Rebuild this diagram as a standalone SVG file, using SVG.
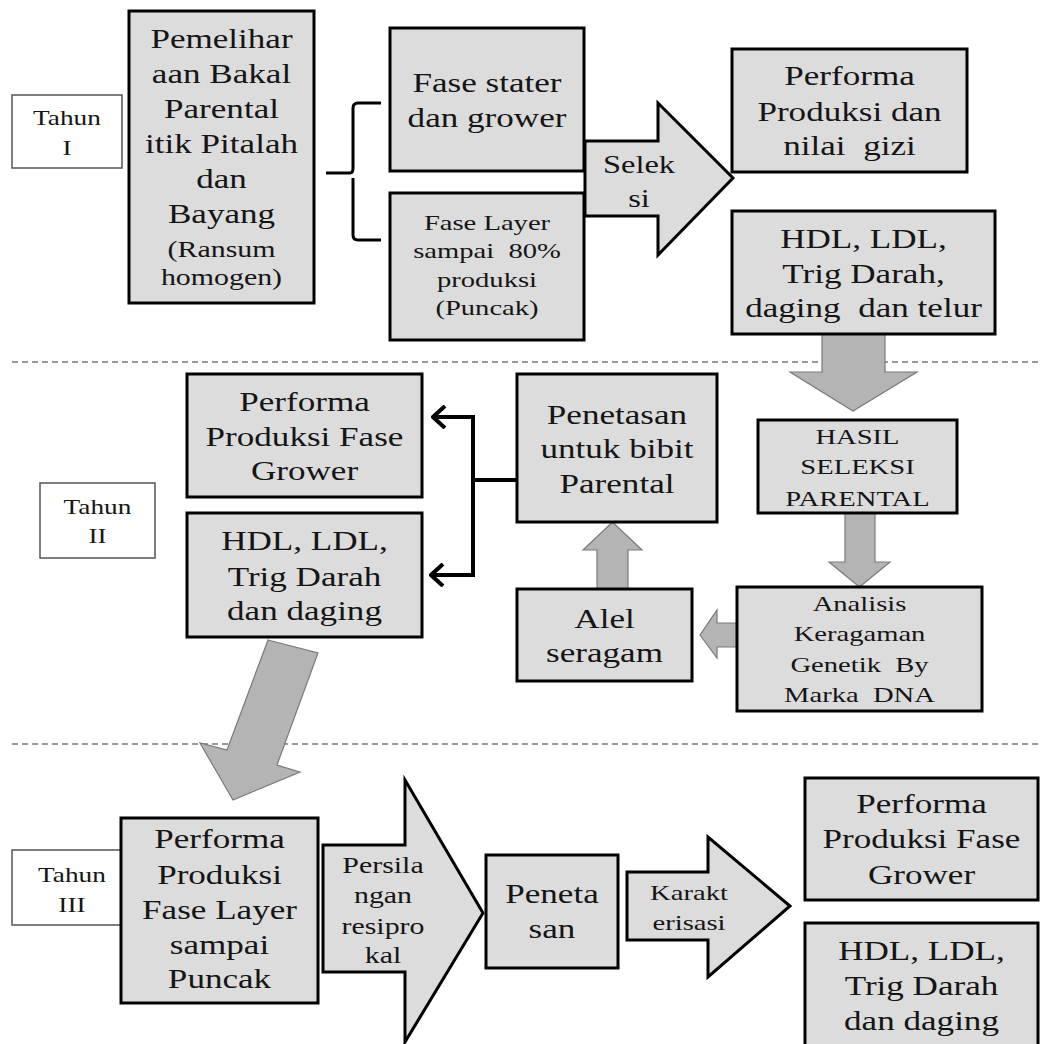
<svg xmlns="http://www.w3.org/2000/svg" width="1041" height="1044" viewBox="0 0 1041 1044">
<style>
.bg{fill:#ffffff}
.box{fill:#dcdcdc;stroke:#000;stroke-width:3}
.lbl{fill:#ffffff;stroke:#555;stroke-width:1.5}
.blk{fill:#dcdcdc;stroke:#000;stroke-width:3;stroke-linejoin:miter}
.gar{fill:#b4b4b4;stroke:#7a7a7a;stroke-width:1.2}
.sep{stroke:#9a9a9a;stroke-width:2;stroke-dasharray:6 4;fill:none}
.con{stroke:#000;stroke-width:4;fill:none}
.brace{stroke:#000;stroke-width:3;fill:none}
text{font-family:"Liberation Serif","Times New Roman",serif;fill:#151515;text-anchor:middle}
.f27{font-size:27px}
.f25{font-size:25px}
.f23{font-size:23px}
.f22{font-size:22px}
.f21{font-size:21px}
</style>
<defs>
<marker id="chev" viewBox="0 0 16 24" refX="14" refY="12" markerWidth="16" markerHeight="24" markerUnits="userSpaceOnUse" orient="auto">
<path d="M2,1 L14,12 L2,23" fill="none" stroke="#000" stroke-width="4"/>
</marker>
</defs>
<rect class="bg" x="0" y="0" width="1041" height="1044"/>

<g id="separators">
<line class="sep" x1="12" y1="362" x2="1041" y2="362"/>
<line class="sep" x1="12" y1="744" x2="1041" y2="744"/>
</g>

<g id="connectors">
<path class="brace" d="M326,173 H350 Q353,173 353,168 V108 Q353,103 358,103 H381 M353,178 V235 Q353,240 358,240 H381"/>
<polygon id="arrow-seleksi" class="blk" points="585,141 658,141 658,103 733,178 658,255 658,216 585,216"/>
<polygon class="gar" points="822,334 885,334 885,372 917,372 853,411 790,372 822,372"/>
<polygon class="gar" points="845,513 875,513 875,562 890,562 859.5,587 829,562 845,562"/>
<polygon class="gar" points="737,623 717,623 717,610 700,635 717,658 717,647 737,647"/>
<polygon class="gar" points="597,589 628,589 628,550 642,550 612.5,522 583,550 597,550"/>
<polygon class="gar" points="268,640 318,653 277,765 300,772 233,800 200,743 227,750"/>
<path class="con" d="M517,480 H473 M473,415 V577"/>
<path class="con" d="M475,417 H433" marker-end="url(#chev)"/>
<path class="con" d="M475,575 H431" marker-end="url(#chev)"/>
<polygon id="arrow-persilangan" class="blk" points="323,845 405,845 405,780 483,913 405,1042 405,972 323,972"/>
<polygon id="arrow-karakterisasi" class="blk" points="627,872 708,872 708,837 790,906 708,977 708,940 627,940"/>
</g>

<g id="label-seleksi"><text class="f25" transform="translate(639,173) scale(1.3,1)"><tspan x="0" dy="0">Selek</tspan><tspan x="0" dy="34">si</tspan></text></g>
<g id="label-persilangan"><text class="f23" transform="translate(383,873) scale(1.3,1)"><tspan x="0" dy="0">Persila</tspan><tspan x="0" dy="30">ngan</tspan><tspan x="0" dy="31">resipro</tspan><tspan x="0" dy="29">kal</tspan></text></g>
<g id="label-karakterisasi"><text class="f22" transform="translate(689,900) scale(1.3,1)"><tspan x="0" dy="0">Karakt</tspan><tspan x="0" dy="30">erisasi</tspan></text></g>

<g id="tahun1">
<rect class="lbl" x="12" y="95" width="110" height="73"/>
<text class="f21" transform="translate(67,125) scale(1.3,1)"><tspan x="0" dy="0">Tahun</tspan><tspan x="0" dy="30">I</tspan></text>
</g>

<g id="pemeliharaan">
<rect class="box" x="129" y="11" width="185" height="292"/>
<text class="f27" transform="translate(221.5,48) scale(1.3,1)"><tspan x="0" dy="0">Pemelihar</tspan><tspan x="0" dy="35">aan Bakal</tspan><tspan x="0" dy="35">Parental</tspan><tspan x="0" dy="35">itik Pitalah</tspan><tspan x="0" dy="35">dan</tspan><tspan x="0" dy="35">Bayang</tspan></text>
<text class="f23" transform="translate(221.5,257) scale(1.3,1)"><tspan x="0" dy="0">(Ransum</tspan><tspan x="0" dy="28">homogen)</tspan></text>
</g>

<g id="fase-stater">
<rect class="box" x="390" y="28" width="194" height="143"/>
<text class="f27" transform="translate(487,92) scale(1.3,1)"><tspan x="0" dy="0">Fase stater</tspan><tspan x="0" dy="35">dan grower</tspan></text>
</g>

<g id="fase-layer">
<rect class="box" x="390" y="193" width="194" height="147"/>
<text class="f22" transform="translate(487,230) scale(1.3,1)"><tspan x="0" dy="0">Fase Layer</tspan><tspan x="0" dy="28">sampai&#160; 80%</tspan><tspan x="0" dy="29">produksi</tspan><tspan x="0" dy="28">(Puncak)</tspan></text>
</g>

<g id="performa1">
<rect class="box" x="732" y="49" width="235" height="123"/>
<text class="f27" transform="translate(849.5,85) scale(1.3,1)"><tspan x="0" dy="0">Performa</tspan><tspan x="0" dy="36">Produksi dan</tspan><tspan x="0" dy="34">nilai&#160; gizi</tspan></text>
</g>

<g id="hdl1">
<rect class="box" x="732" y="211" width="263" height="123"/>
<text class="f27" transform="translate(863.5,248) scale(1.3,1)"><tspan x="0" dy="0">HDL, LDL,</tspan><tspan x="0" dy="35">Trig Darah,</tspan><tspan x="0" dy="34">daging&#160; dan telur</tspan></text>
</g>

<g id="tahun2">
<rect class="lbl" x="40" y="483" width="115" height="75"/>
<text class="f21" transform="translate(97.5,514) scale(1.3,1)"><tspan x="0" dy="0">Tahun</tspan><tspan x="0" dy="29">II</tspan></text>
</g>

<g id="performa2">
<rect class="box" x="187" y="374" width="235" height="123"/>
<text class="f27" transform="translate(304.5,411) scale(1.3,1)"><tspan x="0" dy="0">Performa</tspan><tspan x="0" dy="35">Produksi Fase</tspan><tspan x="0" dy="34">Grower</tspan></text>
</g>

<g id="hdl2">
<rect class="box" x="187" y="513" width="235" height="124"/>
<text class="f27" transform="translate(304.5,550) scale(1.3,1)"><tspan x="0" dy="0">HDL, LDL,</tspan><tspan x="0" dy="36">Trig Darah</tspan><tspan x="0" dy="34">dan daging</tspan></text>
</g>

<g id="penetasan-bibit">
<rect class="box" x="517" y="374" width="200" height="148"/>
<text class="f27" transform="translate(617,424) scale(1.3,1)"><tspan x="0" dy="0">Penetasan</tspan><tspan x="0" dy="34">untuk bibit</tspan><tspan x="0" dy="35">Parental</tspan></text>
</g>

<g id="hasil-seleksi">
<rect class="box" x="758" y="420" width="199" height="93"/>
<text class="f22" transform="translate(857.5,444) scale(1.3,1)"><tspan x="0" dy="0">HASIL</tspan><tspan x="0" dy="30">SELEKSI</tspan><tspan x="0" dy="32">PARENTAL</tspan></text>
</g>

<g id="analisis">
<rect class="box" x="737" y="587" width="245" height="124"/>
<text class="f22" transform="translate(859.5,611) scale(1.3,1)"><tspan x="0" dy="0">Analisis</tspan><tspan x="0" dy="30">Keragaman</tspan><tspan x="0" dy="31">Genetik&#160; By</tspan><tspan x="0" dy="30">Marka&#160; DNA</tspan></text>
</g>

<g id="alel">
<rect class="box" x="517" y="589" width="175" height="92"/>
<text class="f27" transform="translate(604.5,628) scale(1.3,1)"><tspan x="0" dy="0">Alel</tspan><tspan x="0" dy="34">seragam</tspan></text>
</g>

<g id="tahun3">
<rect class="lbl" x="12" y="850" width="115" height="75"/>
<text class="f21" transform="translate(72,882) scale(1.3,1)"><tspan x="0" dy="0">Tahun</tspan><tspan x="0" dy="30">III</tspan></text>
</g>

<g id="performa-layer">
<rect class="box" x="121" y="818" width="197" height="185"/>
<text class="f27" transform="translate(219.5,848) scale(1.3,1)"><tspan x="0" dy="0">Performa</tspan><tspan x="0" dy="36">Produksi</tspan><tspan x="0" dy="35">Fase Layer</tspan><tspan x="0" dy="35">sampai</tspan><tspan x="0" dy="34">Puncak</tspan></text>
</g>

<g id="penetasan3">
<rect class="box" x="486" y="855" width="132" height="113"/>
<text class="f27" transform="translate(552,903) scale(1.3,1)"><tspan x="0" dy="0">Peneta</tspan><tspan x="0" dy="35">san</tspan></text>
</g>

<g id="performa3">
<rect class="box" x="805" y="778" width="233" height="122"/>
<text class="f27" transform="translate(921.5,813) scale(1.3,1)"><tspan x="0" dy="0">Performa</tspan><tspan x="0" dy="35">Produksi Fase</tspan><tspan x="0" dy="36">Grower</tspan></text>
</g>

<g id="hdl3">
<rect class="box" x="805" y="923" width="233" height="135"/>
<text class="f27" transform="translate(921.5,960) scale(1.3,1)"><tspan x="0" dy="0">HDL, LDL,</tspan><tspan x="0" dy="35">Trig Darah</tspan><tspan x="0" dy="35">dan daging</tspan></text>
</g>
</svg>
